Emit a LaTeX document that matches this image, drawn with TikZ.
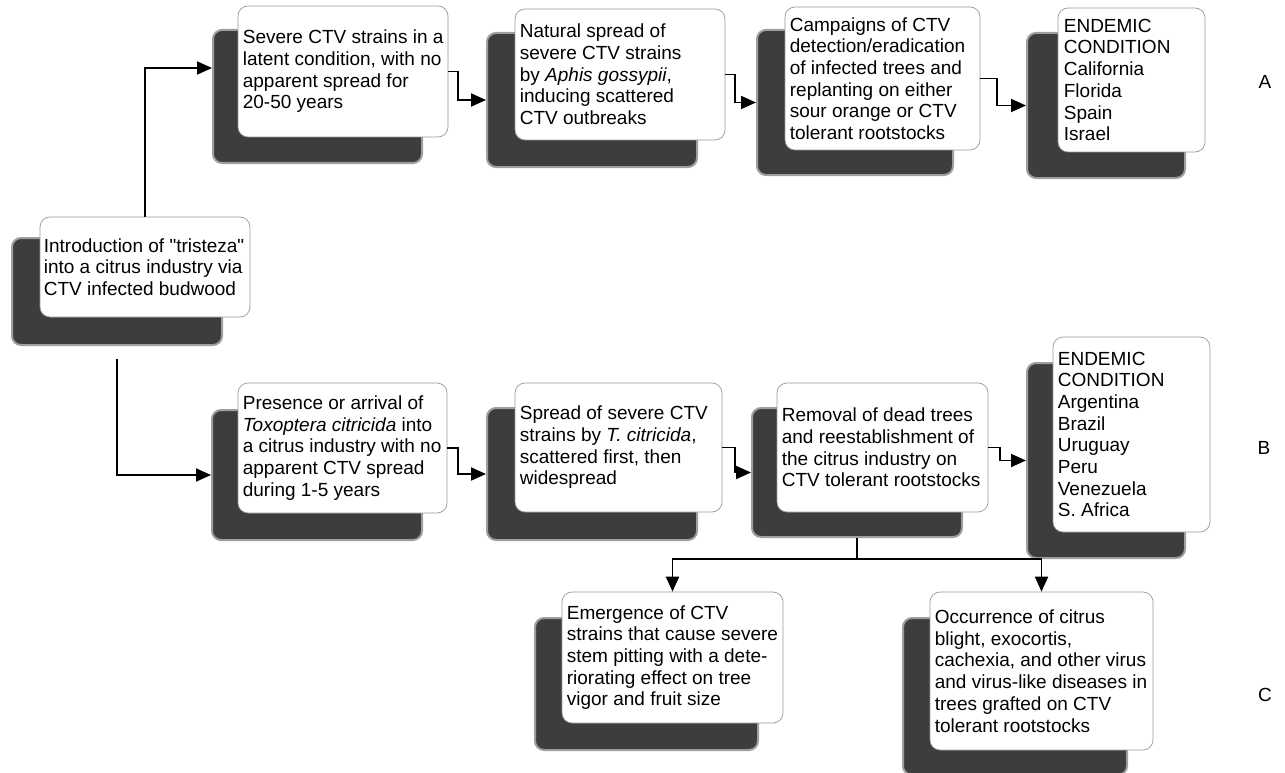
\documentclass[tikz,border=0pt]{standalone}
\usepackage{fontspec}
\setmainfont{Liberation Sans}
\newfontfamily\boxfont{Liberation Sans}
\usetikzlibrary{arrows.meta,calc}
\begin{document}
\begin{tikzpicture}[x=1pt,y=-1pt,
  shadowbox/.style={draw=black!38, line width=2pt, fill=black!76, rounded corners=9pt, inner sep=0pt},
  wbox/.style={draw=black!40, line width=0.7pt, fill=white, rounded corners=10pt, inner sep=0pt},
  txt/.style={anchor=west, align=left, inner sep=0pt, font=\boxfont\fontsize{19}{21.7}\selectfont},
  lbl/.style={inner sep=0pt, font=\boxfont\fontsize{19}{21.7}\selectfont},
  conn/.style={line width=1.9pt, -{Triangle[length=15pt,width=13pt]}},
  plainline/.style={line width=1.9pt}]
\useasboundingbox (0,0) rectangle (1285,773);

% Intro
\node[shadowbox, minimum width=210pt, minimum height=107pt] (intros) at (117,291.5) {};
\node[wbox, minimum width=210pt, minimum height=100pt] (intro) at (145,267) {};
\node[txt] (introt) at ($(intro.west)+(4,0)$) {Introduction of "tristeza"\\into a citrus industry via\\CTV infected budwood};

% Row A
\node[shadowbox, minimum width=209pt, minimum height=133pt] (a1s) at (317.5,96.5) {};
\node[wbox, minimum width=210pt, minimum height=131pt] (a1) at (343,71.5) {};
\node[txt] (a1t) at ($(a1.west)+(5,0)$) {Severe CTV strains in a\\latent condition, with no\\apparent spread for\\20-50 years};

\node[shadowbox, minimum width=210pt, minimum height=134pt] (a2s) at (592,100) {};
\node[wbox, minimum width=210pt, minimum height=131pt] (a2) at (620,74.5) {};
\node[txt] (a2t) at ($(a2.west)+(5,0)$) {Natural spread of\\severe CTV strains\\by \textit{Aphis gossypii},\\inducing scattered\\CTV outbreaks};

\node[shadowbox, minimum width=196pt, minimum height=145pt] (a3s) at (855,102.5) {};
\node[wbox, minimum width=195pt, minimum height=143pt] (a3) at (882.5,78.5) {};
\node[txt] (a3t) at ($(a3.west)+(5,0)$) {Campaigns of CTV\\detection/eradication\\of infected trees and\\replanting on either\\sour orange or CTV\\tolerant rootstocks};

\node[shadowbox, minimum width=158pt, minimum height=145pt] (a4s) at (1106,105.5) {};
\node[wbox, minimum width=147pt, minimum height=144pt] (a4) at (1131.5,80) {};
\node[txt] (a4t) at ($(a4.west)+(6,0)$) {ENDEMIC\\CONDITION\\California\\Florida\\Spain\\Israel};

% Row B
\node[shadowbox, minimum width=210pt, minimum height=130pt] (b1s) at (317,475) {};
\node[wbox, minimum width=209pt, minimum height=130pt] (b1) at (342.5,448) {};
\node[txt] (b1t) at ($(b1.west)+(5,0)$) {Presence or arrival of\\\textit{Toxoptera citricida} into\\a citrus industry with no\\apparent CTV spread\\during 1-5 years};

\node[shadowbox, minimum width=210pt, minimum height=132pt] (b2s) at (592,474) {};
\node[wbox, minimum width=207pt, minimum height=129pt] (b2) at (618.5,447.5) {};
\node[txt] (b2t) at ($(b2.west)+(5,0)$) {Spread of severe CTV\\strains by \textit{T. citricida},\\scattered first, then\\widespread};

\node[shadowbox, minimum width=210pt, minimum height=129pt] (b3s) at (857,472.5) {};
\node[wbox, minimum width=211pt, minimum height=129pt] (b3) at (882.5,447.5) {};
\node[txt] (b3t) at ($(b3.west)+(5,0)$) {Removal of dead trees\\and reestablishment of\\the citrus industry on\\CTV tolerant rootstocks};

\node[shadowbox, minimum width=158pt, minimum height=195pt] (b4s) at (1106,460.5) {};
\node[wbox, minimum width=157pt, minimum height=195pt] (b4) at (1131.5,434.5) {};
\node[txt] (b4t) at ($(b4.west)+(5,0)$) {ENDEMIC\\CONDITION\\Argentina\\Brazil\\Uruguay\\Peru\\Venezuela\\S. Africa};

% Row C
\node[shadowbox, minimum width=223pt, minimum height=132pt] (c1s) at (646.5,684) {};
\node[wbox, minimum width=221pt, minimum height=131pt] (c1) at (672.5,657.5) {};
\node[txt] (c1t) at ($(c1.west)+(5,0)$) {Emergence of CTV\\strains that cause severe\\stem pitting with a dete-\\riorating effect on tree\\vigor and fruit size};

\node[shadowbox, minimum width=224pt, minimum height=157pt] (c2s) at (1015,696.5) {};
\node[wbox, minimum width=223pt, minimum height=158pt] (c2) at (1041.5,671) {};
\node[txt] (c2t) at ($(c2.west)+(5,0)$) {Occurrence of citrus\\blight, exocortis,\\cachexia, and other virus\\and virus-like diseases in\\trees grafted on CTV\\tolerant rootstocks};

% Labels
\node[lbl] (la) at (1265,82) {A};
\node[lbl] (lb) at (1264,448) {B};
\node[lbl] (lc) at (1265,695) {C};

% Connectors
\draw[conn] (intro.north) |- ($(a1s.west)+(0,-28.5)$);
\draw[conn] ($(intros.south)+(0,13)$) |- (b1s.west);
\draw[conn] (a1.east) -- ++(10,0) |- (a2s.west);
\draw[conn] (a2.east) -- ++(10,0) |- (a3s.west);
\draw[conn] (a3.east) -- ++(17,0) |- (a4s.west);
\draw[conn] (b1.east) -- ++(11,0) |- (b2s.west);
\draw[conn] (b2.east) -- ++(13,0) |- (b3s.west);
\draw[conn] (b3.east) -- ++(12,0) |- (b4s.west);
\draw[plainline] (b3s.south) -- ++(0,21) coordinate (j);
\draw[conn] (j) -| (c1.north);
\draw[conn] (j) -| (c2.north);
\end{tikzpicture}
\end{document}
